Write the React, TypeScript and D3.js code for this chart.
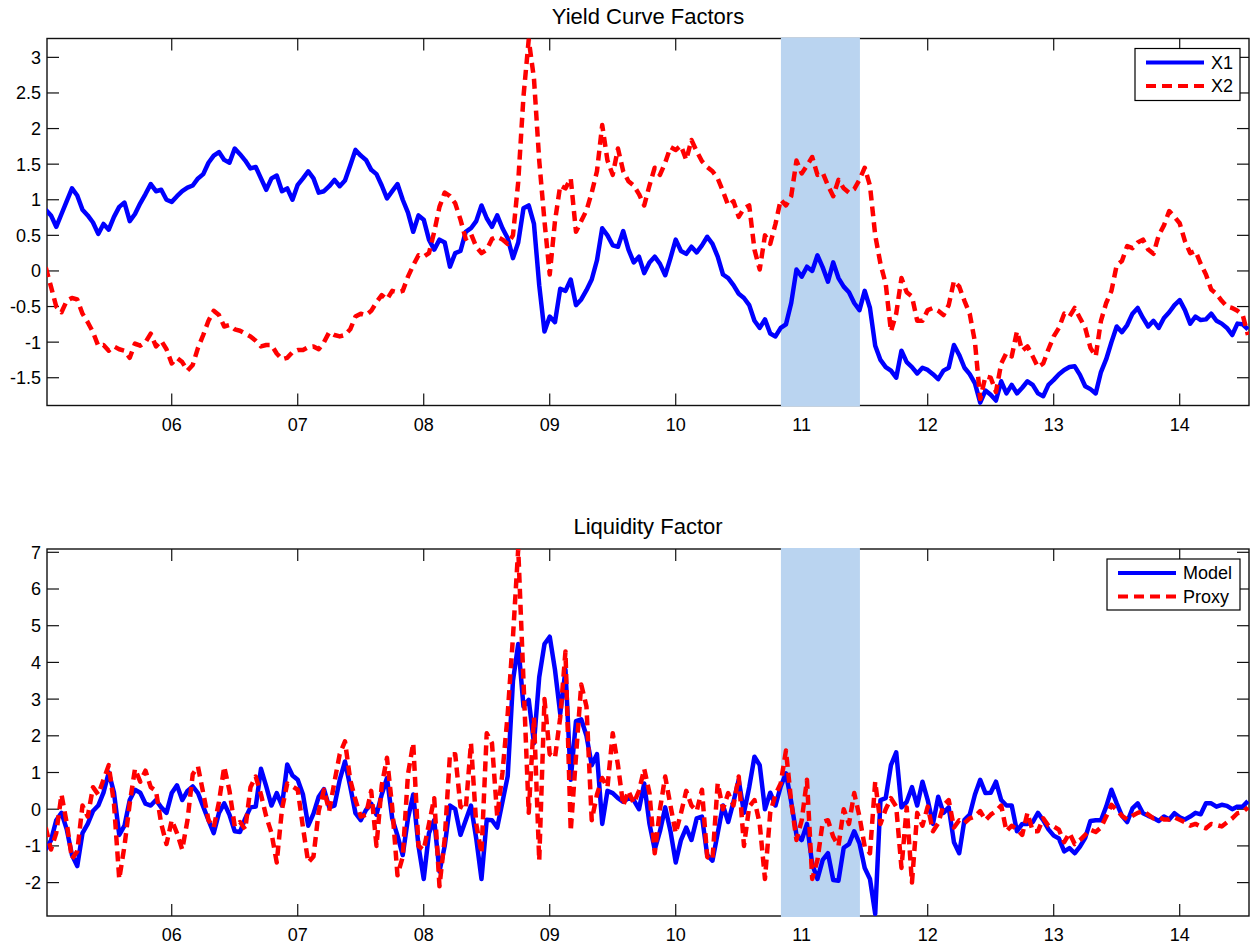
import * as d3 from "d3";

// half-month samples starting Jan 2005
const START = 2005;
const STEP = 1 / 24;

const x1Values = [
  // 2005
  0.86, 0.78, 0.62, 0.80, 0.98, 1.16, 1.06, 0.86, 0.78, 0.68, 0.52, 0.66, 0.58, 0.76, 0.90, 0.96, 0.70, 0.80, 0.95, 1.08, 1.22, 1.12, 1.14, 1.00,
  // 2006
  0.97, 1.05, 1.12, 1.17, 1.20, 1.30, 1.36, 1.52, 1.62, 1.67, 1.56, 1.52, 1.72, 1.64, 1.55, 1.44, 1.46, 1.30, 1.14, 1.30, 1.34, 1.12, 1.16, 1.00,
  // 2007
  1.21, 1.30, 1.40, 1.30, 1.10, 1.12, 1.19, 1.28, 1.19, 1.27, 1.48, 1.70, 1.62, 1.56, 1.42, 1.36, 1.20, 1.02, 1.12, 1.22, 1.00, 0.82, 0.55, 0.78,
  // 2008
  0.72, 0.44, 0.30, 0.44, 0.40, 0.06, 0.25, 0.28, 0.55, 0.60, 0.70, 0.92, 0.74, 0.62, 0.78, 0.60, 0.46, 0.18, 0.40, 0.88, 0.92, 0.66, -0.20, -0.85,
  // 2009
  -0.64, -0.72, -0.25, -0.28, -0.12, -0.48, -0.40, -0.27, -0.12, 0.15, 0.60, 0.50, 0.36, 0.34, 0.56, 0.30, 0.12, 0.20, -0.03, 0.12, 0.20, 0.10, -0.06, 0.18,
  // 2010
  0.44, 0.28, 0.24, 0.34, 0.26, 0.36, 0.48, 0.38, 0.20, -0.05, -0.10, -0.20, -0.32, -0.38, -0.48, -0.70, -0.80, -0.68, -0.88, -0.92, -0.80, -0.75, -0.45, 0.02,
  // 2011
  -0.08, 0.06, 0.00, 0.22, 0.05, -0.15, 0.12, -0.10, -0.22, -0.30, -0.45, -0.55, -0.28, -0.52, -1.05, -1.25, -1.35, -1.40, -1.50, -1.12, -1.28, -1.35, -1.44, -1.36,
  // 2012
  -1.39, -1.45, -1.52, -1.40, -1.36, -1.04, -1.18, -1.36, -1.45, -1.58, -1.85, -1.68, -1.74, -1.82, -1.55, -1.72, -1.60, -1.72, -1.64, -1.55, -1.60, -1.72, -1.76, -1.60,
  // 2013
  -1.53, -1.45, -1.39, -1.35, -1.34, -1.46, -1.62, -1.66, -1.72, -1.42, -1.24, -1.00, -0.78, -0.86, -0.76, -0.60, -0.52, -0.66, -0.78, -0.70, -0.80, -0.66, -0.58, -0.48,
  // 2014
  -0.41, -0.55, -0.74, -0.64, -0.69, -0.68, -0.60, -0.70, -0.74, -0.80, -0.90, -0.74, -0.75, -0.82,
];

const x2Values = [
  // 2005
  0.05, -0.22, -0.50, -0.58, -0.42, -0.38, -0.40, -0.60, -0.72, -0.86, -1.05, -1.04, -1.12, -1.06, -1.10, -1.12, -1.22, -1.02, -1.05, -1.00, -0.88, -1.06, -0.98, -1.10,
  // 2006
  -1.30, -1.22, -1.28, -1.40, -1.32, -1.08, -0.90, -0.70, -0.56, -0.62, -0.78, -0.76, -0.82, -0.84, -0.88, -0.92, -0.98, -1.06, -1.04, -1.04, -1.16, -1.24, -1.22, -1.14,
  // 2007
  -1.11, -1.11, -1.07, -1.06, -1.10, -1.00, -0.86, -0.90, -0.92, -0.90, -0.82, -0.64, -0.60, -0.62, -0.56, -0.44, -0.34, -0.40, -0.28, -0.30, -0.28, -0.08, 0.08, 0.22,
  // 2008
  0.20, 0.25, 0.55, 0.90, 1.10, 1.05, 0.95, 0.72, 0.45, 0.52, 0.34, 0.25, 0.30, 0.45, 0.48, 0.44, 0.38, 0.50, 1.25, 2.45, 3.25, 2.70, 1.55, 0.70,
  // 2009
  -0.05, 0.70, 1.20, 1.16, 1.30, 0.55, 0.70, 0.85, 1.10, 1.40, 2.05, 1.55, 1.35, 1.72, 1.40, 1.26, 1.20, 1.08, 0.92, 1.20, 1.45, 1.35, 1.52, 1.74,
  // 2010
  1.70, 1.76, 1.56, 1.84, 1.68, 1.54, 1.46, 1.40, 1.30, 1.12, 0.92, 0.98, 0.76, 0.88, 0.92, 0.30, 0.02, 0.50, 0.38, 0.66, 1.00, 0.92, 1.05, 1.55,
  // 2011
  1.37, 1.48, 1.60, 1.35, 1.38, 1.20, 1.05, 1.28, 1.16, 1.10, 1.15, 1.28, 1.45, 1.20, 0.50, 0.10, -0.18, -0.85, -0.60, -0.10, -0.30, -0.36, -0.70, -0.70,
  // 2012
  -0.55, -0.52, -0.56, -0.62, -0.48, -0.14, -0.22, -0.42, -0.60, -1.00, -1.80, -1.48, -1.50, -1.70, -1.30, -1.15, -1.20, -0.85, -1.12, -1.06, -1.20, -1.35, -1.30, -1.10,
  // 2013
  -0.92, -0.80, -0.60, -0.64, -0.52, -0.66, -0.80, -1.08, -1.20, -0.70, -0.45, -0.28, 0.08, 0.14, 0.35, 0.32, 0.40, 0.44, 0.30, 0.24, 0.50, 0.64, 0.84, 0.76,
  // 2014
  0.67, 0.42, 0.25, 0.28, 0.10, -0.05, -0.26, -0.32, -0.42, -0.50, -0.52, -0.56, -0.62, -0.90,
];

const modelValues = [
  // 2005
  -1.10, -0.85, -0.30, -0.10, -0.55, -1.25, -1.55, -0.65, -0.40, -0.05, 0.10, 0.45, 1.00, 0.45, -0.70, -0.45, 0.25, 0.53, 0.45, 0.15, 0.10, 0.25, 0.05, -0.10,
  // 2006
  0.44, 0.65, 0.25, 0.50, 0.62, 0.44, 0.07, -0.30, -0.65, -0.10, 0.16, -0.15, -0.60, -0.62, -0.25, 0.05, 0.07, 1.10, 0.62, 0.10, 0.44, 0.10, 1.22, 0.92,
  // 2007
  0.80, 0.40, -0.45, -0.12, 0.34, 0.55, 0.05, 0.10, 0.80, 1.30, 0.62, -0.11, -0.30, -0.02, 0.15, -0.15, 0.40, 0.85, -0.25, -0.72, -1.25, -0.25, 0.40, -1.00,
  // 2008
  -1.90, -0.65, -0.30, -1.70, -1.00, 0.10, 0.00, -0.70, -0.30, 0.10, -0.80, -1.90, -0.29, -0.30, -0.50, 0.20, 0.90, 3.50, 4.50, 2.80, 2.98, 1.80, 3.60, 4.50,
  // 2009
  4.70, 3.80, 2.60, 3.80, 0.80, 2.40, 2.45, 2.00, 1.20, 1.50, -0.40, 0.50, 0.44, 0.30, 0.20, 0.30, 0.25, 0.00, 0.70, -0.40, -1.10, -0.60, 0.05, -0.60,
  // 2010
  -1.45, -0.84, -0.50, -0.84, -0.25, -0.20, -1.25, -1.40, -0.65, 0.10, -0.35, 0.20, 0.80, -0.10, 0.60, 1.43, 1.20, 0.00, 0.45, 0.10, 0.62, 0.98, 0.20, -0.70,
  // 2011
  -0.84, -0.40, -1.50, -1.90, -1.38, -1.20, -1.93, -1.95, -1.05, -0.95, -0.60, -0.93, -1.60, -1.90, -2.85, 0.25, 0.30, 1.20, 1.55, 0.05, 0.20, 0.60, 0.10, 0.75,
  // 2012
  0.25, -0.40, 0.34, -0.10, 0.05, -0.90, -1.20, -0.29, -0.15, 0.40, 0.80, 0.44, 0.45, 0.75, 0.25, 0.10, 0.10, -0.60, -0.40, -0.40, -0.35, -0.10, -0.30, -0.55,
  // 2013
  -0.72, -0.80, -1.15, -1.06, -1.20, -1.02, -0.78, -0.32, -0.30, -0.30, 0.07, 0.53, 0.16, -0.18, -0.35, 0.02, 0.16, -0.11, -0.18, -0.24, -0.32, -0.20, -0.28, -0.11,
  // 2014
  -0.22, -0.28, -0.20, -0.10, -0.14, 0.16, 0.16, 0.07, 0.12, 0.09, 0.00, 0.07, 0.07, 0.22,
];

const proxyValues = [
  // 2005
  -0.50, -1.10, -0.65, 0.40, -0.38, -1.35, -1.15, 0.10, -0.20, 0.60, 0.40, 0.80, 1.20, 0.15, -1.90, -1.00, 0.16, 1.10, 0.75, 1.05, 0.60, 0.50, -0.40, -0.95,
  // 2006
  -0.30, -0.65, -1.10, -0.30, 0.95, 1.16, 0.44, -0.30, -0.50, 0.20, 1.16, 0.50, -0.47, -0.35, -0.55, 0.60, 0.89, 0.40, -0.20, -0.65, -1.45, 0.00, 0.70, 0.62,
  // 2007
  0.53, -0.50, -1.45, -1.29, -0.05, 0.53, -0.05, 0.75, 1.50, 1.85, 0.80, 0.25, -0.20, -0.15, 0.50, -1.00, 0.65, 1.40, 0.05, -1.80, -1.30, 0.95, 1.80, -1.00,
  // 2008
  -1.11, -0.40, 0.30, -2.10, -0.80, 1.50, 1.50, 0.07, 0.00, 1.80, -0.40, -1.20, 2.07, 1.80, -0.20, 1.00, 2.60, 4.70, 7.10, 3.50, -0.10, 2.50, -1.40, 3.00,
  // 2009
  1.50, 1.40, 2.50, 4.30, -0.60, 1.43, 3.40, 2.80, -0.30, 0.40, 0.85, 0.60, 2.07, 1.20, 0.10, 0.50, 0.16, 0.50, 1.10, 0.44, -1.20, 0.00, 0.89, 0.10,
  // 2010
  -0.65, -0.11, 0.50, 0.10, -0.05, 0.53, -1.30, -1.38, 0.71, 0.00, 0.44, 0.10, 0.89, -1.00, 0.07, 0.25, -0.40, -1.90, -0.10, 0.40, 0.70, 1.60, 0.20, -0.84,
  // 2011
  -0.30, 0.80, -1.90, -1.38, -0.35, -0.30, -0.75, -1.00, 0.00, -0.40, 0.44, -0.20, -1.02, -1.20, 0.75, -0.40, 0.00, 0.30, 0.07, -1.60, 0.05, -2.00, -0.10, -0.45,
  // 2012
  0.07, -0.60, -0.38, 0.10, 0.25, -0.50, -0.30, -0.38, -0.25, -0.20, -0.05, -0.30, -0.15, -0.05, 0.10, -0.60, -0.45, -0.55, -0.70, -0.10, -0.60, -0.60, -0.25, -0.45,
  // 2013
  -0.47, -0.56, -0.90, -0.65, -0.95, -0.84, -0.70, -0.56, -0.62, -0.50, -0.20, 0.12, -0.02, -0.18, -0.28, -0.18, -0.10, -0.05, -0.15, -0.25, -0.22, -0.28, -0.28, -0.22,
  // 2014
  -0.29, -0.36, -0.45, -0.40, -0.47, -0.52, -0.40, -0.43, -0.47, -0.36, -0.25, -0.11, -0.08, 0.05,
];

const yearTicks = [2006, 2007, 2008, 2009, 2010, 2011, 2012, 2013, 2014];
const yearLabels = ["06", "07", "08", "09", "10", "11", "12", "13", "14"];
const topTicks = [-1.5, -1, -0.5, 0, 0.5, 1, 1.5, 2, 2.5, 3];
const bottomTicks = [-2, -1, 0, 1, 2, 3, 4, 5, 6, 7];
const shadeRange = [2010.835, 2011.462];

const FONT = "'Liberation Sans', Arial, Helvetica, sans-serif";
const LEFT = 47;
const RIGHT = 1249;

const x = d3.scaleLinear().domain([2005.01, 2014.55]).range([LEFT, RIGHT]);

type Series = { values: number[]; color: string; dashed: boolean; label: string };

function Panel({
  id,
  title,
  top,
  bottom,
  yDomain,
  ticks,
  series,
  legend,
}: {
  id: string;
  title: string;
  top: number;
  bottom: number;
  yDomain: [number, number];
  ticks: number[];
  series: Series[];
  legend: { x: number; y: number; w: number; h: number };
}) {
  const y = d3.scaleLinear().domain(yDomain).range([bottom, top]);
  const line = d3
    .line<number>()
    .x((_, i) => x(START + i * STEP))
    .y((d) => y(d));
  const tickLen = 12;
  const midX = (LEFT + RIGHT) / 2;

  return (
    <g>
      <text x={midX} y={top - 15} textAnchor="middle" fontSize={22} fontFamily={FONT} fill="#000">
        {title}
      </text>
      <defs>
        <clipPath id={`clip-${id}`}>
          <rect x={LEFT} y={top} width={RIGHT - LEFT} height={bottom - top} />
        </clipPath>
      </defs>
      {/* axes box */}
      <rect x={LEFT} y={top} width={RIGHT - LEFT} height={bottom - top} fill="#fff" stroke="#111" strokeWidth={1.4} />
      {yearTicks.map((t, i) => (
        <g key={t}>
          <line x1={x(t)} x2={x(t)} y1={bottom} y2={bottom - tickLen} stroke="#111" strokeWidth={1.2} />
          <line x1={x(t)} x2={x(t)} y1={top} y2={top + tickLen} stroke="#111" strokeWidth={1.2} />
          <text x={x(t)} y={bottom + 25} textAnchor="middle" fontSize={18} fontFamily={FONT} fill="#000">
            {yearLabels[i]}
          </text>
        </g>
      ))}
      {ticks.map((v) => (
        <g key={v}>
          <line x1={LEFT} x2={LEFT + tickLen} y1={y(v)} y2={y(v)} stroke="#111" strokeWidth={1.2} />
          <line x1={RIGHT} x2={RIGHT - tickLen} y1={y(v)} y2={y(v)} stroke="#111" strokeWidth={1.2} />
          <text x={41} y={y(v)} dy="0.36em" textAnchor="end" fontSize={18} fontFamily={FONT} fill="#000">
            {String(v)}
          </text>
        </g>
      ))}
      {/* shaded period */}
      <rect
        x={x(shadeRange[0])}
        y={top - 1}
        width={x(shadeRange[1]) - x(shadeRange[0])}
        height={bottom - top + 2}
        fill="#bad4f0"
      />
      <g clipPath={`url(#clip-${id})`}>
        {series.map((s) => (
          <path
            key={s.label}
            d={line(s.values) ?? ""}
            fill="none"
            stroke={s.color}
            strokeWidth={4.5}
            strokeLinejoin="round"
            strokeDasharray={s.dashed ? "10,6" : undefined}
          />
        ))}
      </g>
      {/* legend */}
      <rect x={legend.x} y={legend.y} width={legend.w} height={legend.h} fill="#fff" stroke="#000" strokeWidth={1.2} />
      {series.map((s, i) => {
        const ry = legend.y + 14 + i * 23.5;
        return (
          <g key={s.label}>
            <line
              x1={legend.x + 11}
              x2={legend.x + 69}
              y1={ry}
              y2={ry}
              stroke={s.color}
              strokeWidth={4}
              strokeDasharray={s.dashed ? "10,6" : undefined}
            />
            <text x={legend.x + 76} y={ry} dy="0.36em" fontSize={18} fontFamily={FONT} fill="#000">
              {s.label}
            </text>
          </g>
        );
      })}
    </g>
  );
}

export default function App() {
  return (
    <svg
      width={1256}
      height={945}
      style={{ position: "absolute", left: 0, top: 0, background: "#fff" }}
    >
      <rect width={1256} height={945} fill="#fff" />
      <Panel
        id="top"
        title="Yield Curve Factors"
        top={38.5}
        bottom={405.5}
        yDomain={[-1.89, 3.265]}
        ticks={topTicks}
        series={[
          { values: x1Values, color: "#0000ff", dashed: false, label: "X1" },
          { values: x2Values, color: "#ff0000", dashed: true, label: "X2" },
        ]}
        legend={{ x: 1135, y: 48.5, w: 105, h: 52 }}
      />
      <Panel
        id="bottom"
        title="Liquidity Factor"
        top={549}
        bottom={916}
        yDomain={[-2.91, 7.09]}
        ticks={bottomTicks}
        series={[
          { values: modelValues, color: "#0000ff", dashed: false, label: "Model" },
          { values: proxyValues, color: "#ff0000", dashed: true, label: "Proxy" },
        ]}
        legend={{ x: 1107, y: 559, w: 133, h: 51 }}
      />
    </svg>
  );
}
